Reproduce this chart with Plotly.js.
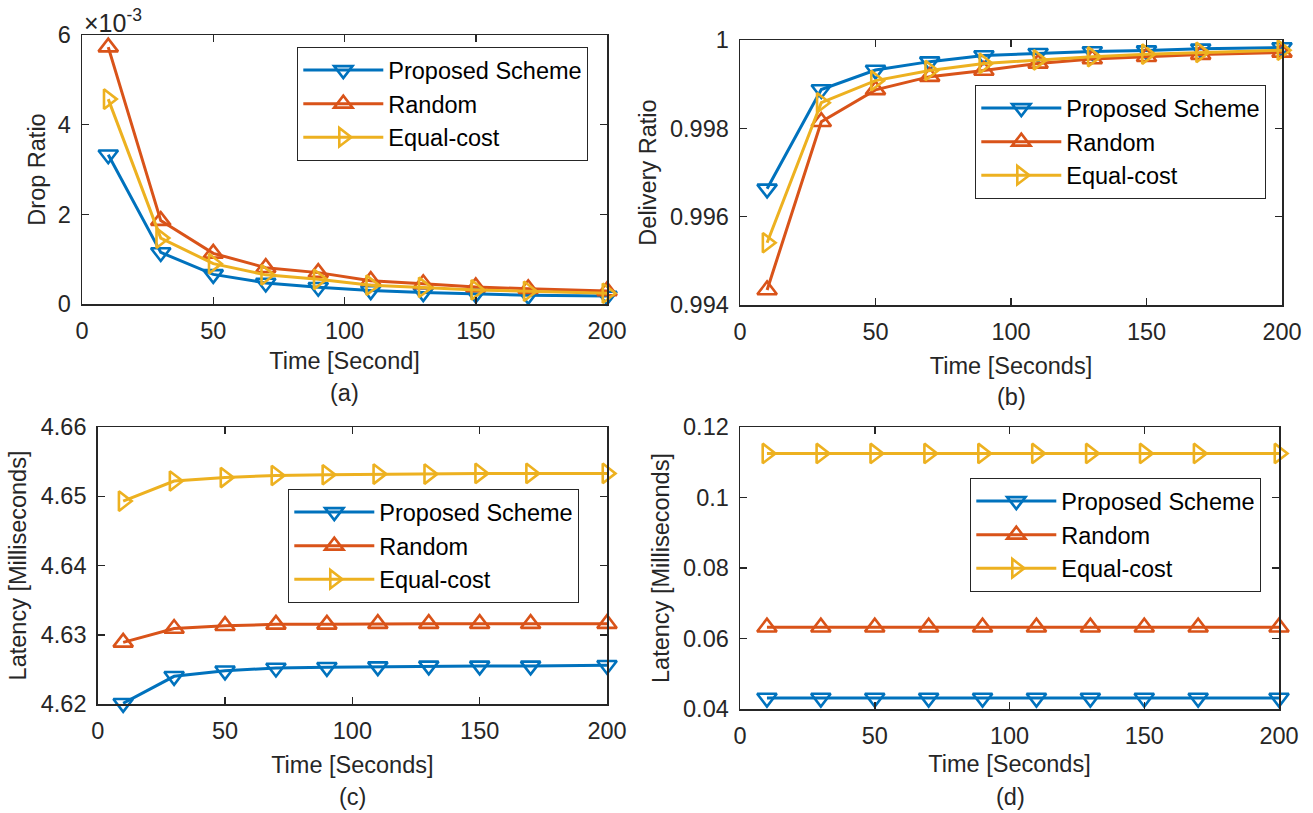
<!DOCTYPE html>
<html><head><meta charset="utf-8">
<script src="https://cdn.plot.ly/plotly-3.0.1.min.js"></script>
<style>html,body{margin:0;padding:0;background:#fff}#chart{width:1313px;height:813px}</style>
</head><body><div id="chart"></div>
<script>
// ---- data ----
const time = [10, 30, 50, 70, 90, 110, 130, 150, 170, 200];
const seriesNames = ['Proposed Scheme', 'Random', 'Equal-cost'];

// (a) Drop ratio
const dropProposed = [0.00333, 0.00115, 0.00066, 0.00047, 0.000375, 0.00030, 0.000255, 0.000225, 0.000195, 0.00018];
const dropRandom   = [0.00573, 0.00186, 0.00113, 0.00081, 0.00070, 0.00052, 0.00045, 0.00038, 0.00034, 0.00029];
const dropEqual    = [0.00457, 0.00147, 0.00090, 0.00065, 0.00055, 0.00042, 0.00037, 0.000315, 0.000285, 0.00024];

// (b) Delivery ratio
const delivProposed = [0.99663, 0.99888, 0.99932, 0.99951, 0.99965, 0.99970, 0.99974, 0.99976, 0.99980, 0.99983];
const delivRandom   = [0.99434, 0.99815, 0.99887, 0.99917, 0.99931, 0.99947, 0.99957, 0.99962, 0.99967, 0.99972];
const delivEqual    = [0.99541, 0.99858, 0.99908, 0.99931, 0.99947, 0.99955, 0.99962, 0.99968, 0.99972, 0.99977];

// (c) Latency [ms]
const latCProposed = [4.6201, 4.6240, 4.6248, 4.6252, 4.6253, 4.6254, 4.6255, 4.6255, 4.6255, 4.6256];
const latCRandom   = [4.6289, 4.6309, 4.6313, 4.6315, 4.6315, 4.6316, 4.6316, 4.6316, 4.6316, 4.6316];
const latCEqual    = [4.6493, 4.6522, 4.6527, 4.6530, 4.6531, 4.6532, 4.6532, 4.6533, 4.6533, 4.6533];

// (d) Latency [ms]
const latDProposed = [0.0431, 0.0431, 0.0431, 0.0431, 0.0431, 0.0431, 0.0431, 0.0431, 0.0431, 0.0431];
const latDRandom   = [0.0632, 0.0632, 0.0632, 0.0632, 0.0632, 0.0632, 0.0632, 0.0632, 0.0632, 0.0632];
const latDEqual    = [0.1125, 0.1125, 0.1125, 0.1125, 0.1125, 0.1125, 0.1125, 0.1125, 0.1125, 0.1125];

// tick labels
const xTicks = [0, 50, 100, 150, 200];
const aTickVals = [0, 0.002, 0.004, 0.006];
const aTickText = ['0', '2', '4', '6'];
const bTickVals = [0.994, 0.996, 0.998, 1];
const bTickText = ['0.994', '0.996', '0.998', '1'];
const cTickVals = [4.62, 4.63, 4.64, 4.65, 4.66];
const cTickText = ['4.62', '4.63', '4.64', '4.65', '4.66'];
const dTickVals = [0.04, 0.06, 0.08, 0.1, 0.12];
const dTickText = ['0.04', '0.06', '0.08', '0.1', '0.12'];

// ---- styling ----
const colors = ['#0072BD', '#D95319', '#EDB120'];
const symbols = ['triangle-down-open', 'triangle-up-open', 'triangle-right-open'];
const ink = '#262626';
const FONT = 'Liberation Sans, Arial, Helvetica, sans-serif';
const FS = 23.5;
const W = 1313, H = 813;

const panels = [
  {ys: [dropProposed, dropRandom, dropEqual], xa: 'x', ya: 'y', leg: 'legend'},
  {ys: [delivProposed, delivRandom, delivEqual], xa: 'x2', ya: 'y2', leg: 'legend2'},
  {ys: [latCProposed, latCRandom, latCEqual], xa: 'x3', ya: 'y3', leg: 'legend3'},
  {ys: [latDProposed, latDRandom, latDEqual], xa: 'x4', ya: 'y4', leg: 'legend4'}
];

const traces = [];
panels.forEach(p => {
  p.ys.forEach((ys, i) => {
    traces.push({
      x: time, y: ys, type: 'scatter', mode: 'lines+markers',
      name: seriesNames[i], xaxis: p.xa, yaxis: p.ya, legend: p.leg,
      cliponaxis: false,
      line: {color: colors[i], width: 3},
      marker: {symbol: symbols[i], size: 17, color: colors[i], line: {color: colors[i], width: 2.6}}
    });
  });
});

function px(v) { return v / W; }
function py(v) { return 1 - v / H; }

function xAxis(dom, anchor, title, so) {
  return {
    domain: dom, anchor: anchor, range: [0, 200], tickvals: xTicks,
    showgrid: false, zeroline: false, showline: true, linecolor: ink, linewidth: 1.5,
    mirror: 'ticks', ticks: 'inside', ticklen: 7, tickwidth: 1.5, tickcolor: ink,
    ticklabelstandoff: 5,
    tickfont: {family: FONT, size: FS, color: ink},
    title: {text: title, font: {family: FONT, size: FS, color: ink}, standoff: so}
  };
}
function yAxis(dom, anchor, range, vals, text, title, so) {
  return {
    domain: dom, anchor: anchor, range: range, tickvals: vals, ticktext: text,
    showgrid: false, zeroline: false, showline: true, linecolor: ink, linewidth: 1.5,
    mirror: 'ticks', ticks: 'inside', ticklen: 7, tickwidth: 1.5, tickcolor: ink,
    ticklabelstandoff: 5,
    tickfont: {family: FONT, size: FS, color: ink},
    title: {text: title, font: {family: FONT, size: FS, color: ink}, standoff: so}
  };
}
function legendAt(left, top) {
  return {
    x: px(left), y: py(top), xanchor: 'left', yanchor: 'top',
    bgcolor: '#ffffff', bordercolor: ink, borderwidth: 1.3,
    font: {family: FONT, size: FS, color: '#000'}, itemwidth: 80, tracegroupgap: 0
  };
}

const layout = {
  width: W, height: H,
  margin: {l: 0, r: 0, t: 0, b: 0},
  paper_bgcolor: '#fff', plot_bgcolor: '#fff',
  font: {family: FONT, size: FS, color: ink},
  showlegend: true,
  xaxis:  xAxis([px(82), px(607)], 'y', 'Time [Second]', 10),
  yaxis:  yAxis([py(304), py(35)], 'x', [0, 0.006], aTickVals, aTickText, 'Drop Ratio', 5),
  xaxis2: xAxis([px(740), px(1282)], 'y2', 'Time [Seconds]', 14),
  yaxis2: yAxis([py(305), py(40)], 'x2', [0.994, 1], bTickVals, bTickText, 'Delivery Ratio', 7),
  xaxis3: xAxis([px(97.7), px(607)], 'y3', 'Time [Seconds]', 14),
  yaxis3: yAxis([py(704), py(427)], 'x3', [4.62, 4.66], cTickVals, cTickText, 'Latency [Milliseconds]', 7),
  xaxis4: xAxis([px(740), px(1279)], 'y4', 'Time [Seconds]', 8),
  yaxis4: yAxis([py(709), py(427)], 'x4', [0.04, 0.12], dTickVals, dTickText, 'Latency [Milliseconds]', 7),
  legend:  legendAt(297, 47),
  legend2: legendAt(975, 85),
  legend3: legendAt(288, 489),
  legend4: legendAt(970, 478),
  annotations: [
    {text: '×10<sup>-3</sup>', xref: 'paper', yref: 'paper', x: px(82), y: py(21), xanchor: 'left', yanchor: 'middle', showarrow: false, font: {family: FONT, size: 25, color: ink}},
    {text: '(a)', xref: 'paper', yref: 'paper', x: px(344), y: py(393), xanchor: 'center', yanchor: 'middle', showarrow: false, font: {family: FONT, size: FS, color: ink}},
    {text: '(b)', xref: 'paper', yref: 'paper', x: px(1011), y: py(397), xanchor: 'center', yanchor: 'middle', showarrow: false, font: {family: FONT, size: FS, color: ink}},
    {text: '(c)', xref: 'paper', yref: 'paper', x: px(352), y: py(797), xanchor: 'center', yanchor: 'middle', showarrow: false, font: {family: FONT, size: FS, color: ink}},
    {text: '(d)', xref: 'paper', yref: 'paper', x: px(1010), y: py(797), xanchor: 'center', yanchor: 'middle', showarrow: false, font: {family: FONT, size: FS, color: ink}}
  ]
};

Plotly.newPlot('chart', traces, layout, {displayModeBar: false, staticPlot: true});
</script>
</body></html>
